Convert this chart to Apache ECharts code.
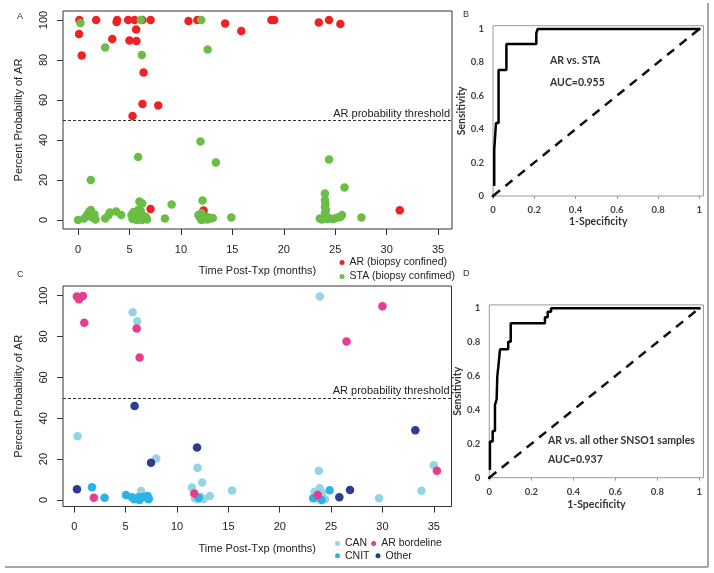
<!DOCTYPE html>
<html><head><meta charset="utf-8">
<script src="https://cdn.jsdelivr.net/npm/echarts@6/dist/echarts.min.js"></script>
<style>html,body{margin:0;padding:0;background:#fff}#c{width:714px;height:573px}</style>
</head><body><div id="c"></div>
<script>
// ---------- Panel A data: [months post-transplant, % probability of AR] ----------
const arBiopsy = [
  [0.13,100],[0.1,93],[0.36,82.3],[1.76,100],[3.33,90.5],[3.8,100],[3.75,99],[4.87,100],
  [5.0,89.8],[5.5,100],[5.65,95.2],[5.68,89.5],[5.3,52],[6.24,100],[6.37,73.7],[6.27,58],
  [7.8,57.3],[7.05,100],[10.74,99.5],[11.6,100],[14.3,98.3],[15.87,94.5],[18.8,100],[19.07,100],
  [23.4,98.7],[24.4,100],[25.5,98],[7.05,5.5],[12.2,4.7],[31.27,4.85]
];
const staBiopsy = [
  [0.23,98.5],[2.64,86.2],[6.1,100],[6.2,82.5],[11.98,100],[12.6,85.3],[11.9,39.2],[5.84,31.5],
  [13.4,28.7],[24.4,30.3],[1.24,20],[25.9,16.2],[24.0,13.3],[9.1,7.8],[12.1,9.7],[5.97,9.2],
  [6.24,8.3],[27.55,1.3],[14.9,1.3],[8.45,0.8],
  [0.0,0],[0.6,0.8],[0.9,2.7],[1.1,4.2],[1.25,5],[1.5,1.0],[1.6,2.7],[1.7,0.3],[1.3,1.5],
  [2.64,0.8],[2.97,2.5],[3.1,3.7],[3.7,4.2],[4.2,2.5],
  [5.2,2.5],[5.3,0.5],[5.5,1.5],[5.6,3.5],[5.7,0],[5.8,2],[5.9,0.8],[6.0,3],[6.1,1.2],[6.2,0],
  [6.3,2.2],[6.45,0.8],[6.6,1.5],[6.7,0.3],[5.9,5.2],[6.1,4.5],[5.4,4],
  [11.7,2.5],[11.85,1.2],[12.0,0],[12.1,2],[12.25,0.5],[12.4,1.5],[12.55,0.3],[12.7,1.2],
  [12.9,0.8],[13.1,1],[12.0,3.5],
  [24.0,10],[24.05,8],[24.0,6.5],[24.1,5],[24.0,3.5],[24.1,2.2],
  [23.5,0.8],[23.7,0.3],[23.9,1],[24.2,0.5],[24.5,0.8],[24.8,0.5],[25.1,1],[25.4,1.5],[25.66,2.5],[25.5,1.5]
];
// ---------- Panel C data ----------
const canPts = [
  [0.32,31.2],[5.68,91.9],[6.13,87.5],[23.9,99.6],[6.5,4.4],[7.3,0.8],[6.9,1.5],[7.98,20.3],
  [12.0,15.8],[12.45,8.6],[11.45,6.1],[13.2,1.9],[11.75,0.9],[12.05,0.3],[12.3,1.5],[12.6,0.5],
  [15.35,4.6],[23.8,14.3],[23.4,4],[23.9,5.7],[24.1,3.5],[24.4,0.3],[23.6,0.9],[29.67,0.8],
  [33.8,4.5],[35.0,17]
];
const cnitPts = [
  [1.72,6.2],[2.95,1.1],[5.03,2.4],[5.6,1.3],[5.83,0.3],[6.25,1.3],[6.35,0],[6.73,1.6],
  [7.12,2],[7.22,0.3],[12.1,1.1],[23.26,0.8],[24.07,0],[24.86,4.7]
];
const otherPts = [
  [5.87,46],[0.26,5.2],[7.47,18.2],[11.95,25.7],[25.8,1.3],[26.84,4.9],[33.2,34.1]
];
const borderlinePts = [
  [0.25,99.6],[0.45,98.3],[0.85,99.8],[0.97,86.8],[6.07,84],[6.36,69.8],[26.5,77.6],[30.0,94.8],
  [1.9,1.1],[11.68,3.2],[23.7,2.4],[35.3,14.3]
];
const arThreshold = 50;
// ---------- ROC curves ----------
const rocB_fpr = [0.006,0.006,0.0145,0.0145,0.027,0.027,0.065,0.065,0.21,0.21,0.216,0.216,0.997];
const rocB_tpr = [0.06,0.278,0.278,0.437,0.437,0.755,0.755,0.91,0.91,0.974,0.974,1.0,1.0];
const rocD_fpr = [0.003,0.003,0.016,0.016,0.027,0.027,0.035,0.035,0.038,0.038,0.043,0.043,0.051,0.051,0.09,0.09,0.102,0.102,0.265,0.265,0.278,0.278,0.294,0.294,0.998];
const rocD_tpr = [0.045,0.213,0.213,0.276,0.276,0.43,0.43,0.463,0.463,0.596,0.596,0.655,0.655,0.758,0.758,0.803,0.803,0.911,0.911,0.947,0.947,0.98,0.98,1.0,1.0];
const chanceLine = [0, 1];
// ---------- Tick labels ----------
const timeTicks = [0,5,10,15,20,25,30,35];
const probTicks = [0,20,40,60,80,100];
const rocTicks = [0,0.2,0.4,0.6,0.8,1];

const zip = (a,b) => a.map((v,i)=>[v,b[i]]);
const RF = 'Liberation Sans, Arial, sans-serif';
const XF = 'Lato, Carlito, sans-serif';

function rX(grid, min, max, gap) {
  return {type:'value', gridIndex:grid, min:min, max:max, position:'bottom',
    axisLine:{show:false, onZero:false}, splitLine:{show:false},
    axisTick:{show:true, customValues:timeTicks, length:6, lineStyle:{color:'#333'}},
    axisLabel:{customValues:timeTicks, margin:15, fontSize:11, fontFamily:RF, color:'#222'},
    name:'Time Post-Txp (months)', nameLocation:'middle', nameGap:gap,
    nameTextStyle:{fontSize:11, fontFamily:RF, color:'#222'}};
}
function rY(grid, min, max) {
  return {type:'value', gridIndex:grid, min:min, max:max, position:'left',
    axisLine:{show:false, onZero:false}, splitLine:{show:false},
    axisTick:{show:true, customValues:probTicks, length:6, lineStyle:{color:'#333'}},
    axisLabel:{customValues:probTicks, rotate:90, margin:14, align:'center', verticalAlign:'bottom',
      fontSize:11, fontFamily:RF, color:'#222'},
    name:'Percent Probability of AR', nameLocation:'middle', nameGap:39,
    nameTextStyle:{fontSize:11, fontFamily:RF, color:'#222'}};
}
function eX(grid, gap) {
  return {type:'value', gridIndex:grid, min:0, max:1.02, position:'bottom',
    axisLine:{show:false, onZero:false}, splitLine:{show:false},
    axisTick:{show:true, customValues:rocTicks, length:3, lineStyle:{color:'#999'}},
    axisLabel:{customValues:rocTicks, margin:9, fontSize:9.5, fontWeight:'bold', fontFamily:XF, color:'#404040', formatter:v=>String(v)},
    name:'1-Specificity', nameLocation:'middle', nameGap:gap,
    nameTextStyle:{fontSize:10.5, fontWeight:'bold', fontFamily:XF, color:'#333'}};
}
function eY(grid, gap) {
  return {type:'value', gridIndex:grid, min:0, max:1.02, position:'left',
    axisLine:{show:false, onZero:false}, splitLine:{show:false},
    axisTick:{show:false},
    axisLabel:{customValues:rocTicks, margin:9, fontSize:9.5, fontWeight:'bold', fontFamily:XF, color:'#404040', formatter:v=>String(v)},
    name:'Sensitivity', nameLocation:'middle', nameGap:gap,
    nameTextStyle:{fontSize:10.5, fontWeight:'bold', fontFamily:XF, color:'#333'}};
}
const thresholdLine = {
  silent:true, symbol:'none', data:[{yAxis:arThreshold}],
  lineStyle:{type:[3,2], color:'#333', width:1},
  label:{show:true, position:'insideEndTop', distance:[2,1], formatter:'AR probability threshold',
    fontSize:11, fontFamily:RF, color:'#222'}
};

const chart = echarts.init(document.getElementById('c'), null, {renderer:'canvas'});
chart.setOption({
  animation:false,
  backgroundColor:'#fff',
  grid:[
    {left:63, top:11, width:389, height:218, show:true, borderColor:'#333', borderWidth:1, outerBoundsMode:'none'},
    {left:63, top:286, width:388.5, height:220.5, show:true, borderColor:'#333', borderWidth:1, outerBoundsMode:'none'},
    {left:493, top:25.7, width:210.4, height:170.3, show:true, borderColor:'#9a9a9a', borderWidth:1, outerBoundsMode:'none'},
    {left:489.3, top:304.9, width:214.2, height:172.8, show:true, borderColor:'#9a9a9a', borderWidth:1, outerBoundsMode:'none'}
  ],
  xAxis:[ rX(0,-1.46,36.35,36), rX(1,-1.1,36.72,36.5), eX(2,17), eX(3,21) ],
  yAxis:[ rY(0,-4.5,104.5), rY(1,-3.2,104.75), eY(2,22), eY(3,19) ],
  legend:[
    {orient:'vertical', left:339.5, top:257, padding:0, itemWidth:5, itemHeight:5, itemGap:3, icon:'circle',
     selectedMode:false, textStyle:{fontSize:10.5, fontFamily:RF, color:'#222'},
     data:['AR (biopsy confined)','STA (biopsy confimed)']},
    {orient:'horizontal', left:335, top:538, padding:0, itemWidth:5, itemHeight:5, itemGap:4, icon:'circle',
     selectedMode:false, textStyle:{fontSize:10.5, fontFamily:RF, color:'#222'},
     data:['CAN','AR bordeline']},
    {orient:'horizontal', left:335, top:550.3, padding:0, itemWidth:5, itemHeight:5, itemGap:6, icon:'circle',
     selectedMode:false, textStyle:{fontSize:10.5, fontFamily:RF, color:'#222'},
     data:['CNIT','Other']}
  ],
  series:[
    {type:'scatter', name:'AR (biopsy confined)', xAxisIndex:0, yAxisIndex:0, data:arBiopsy,
     symbolSize:8.5, itemStyle:{color:'#ee2124', opacity:1}},
    {type:'scatter', name:'STA (biopsy confimed)', xAxisIndex:0, yAxisIndex:0, data:staBiopsy,
     symbolSize:8.5, itemStyle:{color:'#6abd45', opacity:1}, markLine:thresholdLine},
    {type:'scatter', name:'CAN', xAxisIndex:1, yAxisIndex:1, data:canPts,
     symbolSize:8.5, itemStyle:{color:'#93d4e7', opacity:1}, markLine:thresholdLine},
    {type:'scatter', name:'CNIT', xAxisIndex:1, yAxisIndex:1, data:cnitPts,
     symbolSize:8.5, itemStyle:{color:'#2cb2e6', opacity:1}},
    {type:'scatter', name:'Other', xAxisIndex:1, yAxisIndex:1, data:otherPts,
     symbolSize:8.5, itemStyle:{color:'#2b3c92', opacity:1}},
    {type:'scatter', name:'AR bordeline', xAxisIndex:1, yAxisIndex:1, data:borderlinePts,
     symbolSize:8.5, itemStyle:{color:'#ea3b8e', opacity:1}},
    {type:'line', name:'chanceB', xAxisIndex:2, yAxisIndex:2, data:zip(chanceLine,chanceLine),
     showSymbol:true, symbol:'circle', symbolSize:3, itemStyle:{color:'#111'},
     lineStyle:{color:'#111', width:2.5, type:[9,7]}},
    {type:'line', name:'rocB', xAxisIndex:2, yAxisIndex:2, data:zip(rocB_fpr,rocB_tpr),
     showSymbol:false, lineStyle:{color:'#000', width:2.5}},
    {type:'line', name:'chanceD', xAxisIndex:3, yAxisIndex:3, data:zip(chanceLine,chanceLine),
     showSymbol:true, symbol:'circle', symbolSize:3, itemStyle:{color:'#111'},
     lineStyle:{color:'#111', width:2.5, type:[9,7]}},
    {type:'line', name:'rocD', xAxisIndex:3, yAxisIndex:3, data:zip(rocD_fpr,rocD_tpr),
     showSymbol:false, lineStyle:{color:'#000', width:2.5}}
  ],
  graphic:[
    {type:'text', left:17, top:12, style:{text:'A', fontSize:9, fontFamily:RF, fill:'#333'}},
    {type:'text', left:17, top:270, style:{text:'C', fontSize:9, fontFamily:RF, fill:'#333'}},
    {type:'text', left:463, top:10, style:{text:'B', fontSize:9, fontFamily:RF, fill:'#333'}},
    {type:'text', left:463, top:269, style:{text:'D', fontSize:9, fontFamily:RF, fill:'#333'}},
    {type:'text', left:550, top:55, style:{text:'AR vs. STA', fontSize:10.5, fontWeight:'bold', fontFamily:XF, fill:'#333'}},
    {type:'text', left:550, top:77, style:{text:'AUC=0.955', fontSize:10.5, fontWeight:'bold', fontFamily:XF, fill:'#333'}},
    {type:'text', left:548, top:435.5, style:{text:'AR vs. all other SNSO1 samples', fontSize:10.5, fontWeight:'bold', fontFamily:XF, fill:'#333'}},
    {type:'text', left:548, top:454, style:{text:'AUC=0.937', fontSize:10.5, fontWeight:'bold', fontFamily:XF, fill:'#333'}},
    {type:'line', shape:{x1:708,y1:3,x2:708,y2:567}, style:{stroke:'#8a8a8a', lineWidth:1.5}},
    {type:'line', shape:{x1:5,y1:567,x2:708,y2:567}, style:{stroke:'#8a8a8a', lineWidth:1.5}}
  ]
});
</script></body></html>
